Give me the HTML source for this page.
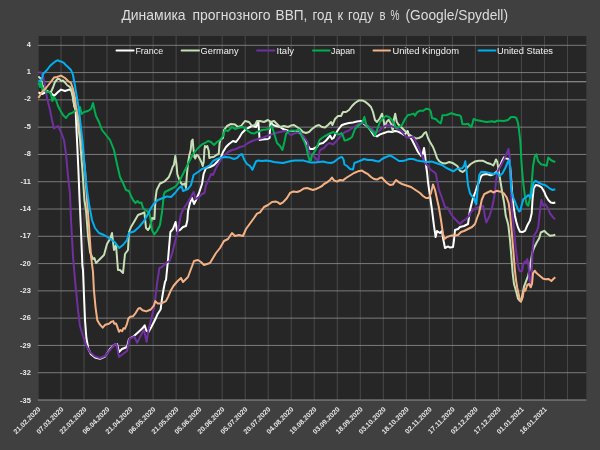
<!DOCTYPE html>
<html><head><meta charset="utf-8"><title>chart</title>
<style>
html,body{margin:0;padding:0;background:#404040;}
body{width:600px;height:450px;overflow:hidden;font-family:"Liberation Sans",sans-serif;}
svg{display:block;font-family:"Liberation Sans",sans-serif;}
.s{fill:none;stroke-width:2;stroke-linejoin:round;stroke-linecap:butt;}
</style></head><body>
<svg width="600" height="450" viewBox="0 0 600 450">
<defs><filter id="nf" x="-5%" y="-5%" width="110%" height="110%"><feOffset dx="0" dy="0"/></filter></defs>
<rect x="0" y="0" width="600" height="450" fill="#404040"/>
<rect x="38.7" y="36.0" width="547.6" height="364.0" fill="#262626"/>
<g stroke="#626262" stroke-width="0.6">
<line x1="61.02" y1="36.0" x2="61.02" y2="400.0"/>
<line x1="84.04" y1="36.0" x2="84.04" y2="400.0"/>
<line x1="107.06" y1="36.0" x2="107.06" y2="400.0"/>
<line x1="130.08" y1="36.0" x2="130.08" y2="400.0"/>
<line x1="153.10" y1="36.0" x2="153.10" y2="400.0"/>
<line x1="176.12" y1="36.0" x2="176.12" y2="400.0"/>
<line x1="199.14" y1="36.0" x2="199.14" y2="400.0"/>
<line x1="222.16" y1="36.0" x2="222.16" y2="400.0"/>
<line x1="245.18" y1="36.0" x2="245.18" y2="400.0"/>
<line x1="268.20" y1="36.0" x2="268.20" y2="400.0"/>
<line x1="291.22" y1="36.0" x2="291.22" y2="400.0"/>
<line x1="314.24" y1="36.0" x2="314.24" y2="400.0"/>
<line x1="337.26" y1="36.0" x2="337.26" y2="400.0"/>
<line x1="360.28" y1="36.0" x2="360.28" y2="400.0"/>
<line x1="383.30" y1="36.0" x2="383.30" y2="400.0"/>
<line x1="406.32" y1="36.0" x2="406.32" y2="400.0"/>
<line x1="429.34" y1="36.0" x2="429.34" y2="400.0"/>
<line x1="452.36" y1="36.0" x2="452.36" y2="400.0"/>
<line x1="475.38" y1="36.0" x2="475.38" y2="400.0"/>
<line x1="498.40" y1="36.0" x2="498.40" y2="400.0"/>
<line x1="521.42" y1="36.0" x2="521.42" y2="400.0"/>
<line x1="544.44" y1="36.0" x2="544.44" y2="400.0"/>
<line x1="567.46" y1="36.0" x2="567.46" y2="400.0"/>
</g>
<g stroke="#8a8a8a" stroke-width="0.85">
<line x1="37.9" y1="45.30" x2="586.3" y2="45.30"/>
<line x1="37.9" y1="72.58" x2="586.3" y2="72.58"/>
<line x1="37.9" y1="99.87" x2="586.3" y2="99.87"/>
<line x1="37.9" y1="127.15" x2="586.3" y2="127.15"/>
<line x1="37.9" y1="154.44" x2="586.3" y2="154.44"/>
<line x1="37.9" y1="181.72" x2="586.3" y2="181.72"/>
<line x1="37.9" y1="209.01" x2="586.3" y2="209.01"/>
<line x1="37.9" y1="236.29" x2="586.3" y2="236.29"/>
<line x1="37.9" y1="263.58" x2="586.3" y2="263.58"/>
<line x1="37.9" y1="290.86" x2="586.3" y2="290.86"/>
<line x1="37.9" y1="318.15" x2="586.3" y2="318.15"/>
<line x1="37.9" y1="345.43" x2="586.3" y2="345.43"/>
<line x1="37.9" y1="372.72" x2="586.3" y2="372.72"/>
<line x1="37.9" y1="400.00" x2="586.3" y2="400.00"/>
<line x1="37.9" y1="400.0" x2="586.3" y2="400.0" stroke="#8a8a8a" stroke-width="0.5"/>
<line x1="38.7" y1="81.68" x2="586.3" y2="81.68" stroke="#a2a2a2" stroke-width="1.1"/>
</g>
<g filter="url(#nf)">
<g fill="#ececec" font-size="7.4" font-weight="bold" text-anchor="end">
<text x="30.8" y="46.6">4</text>
<text x="30.8" y="74.0">1</text>
<text x="30.8" y="101.4">-2</text>
<text x="30.8" y="128.8">-5</text>
<text x="30.8" y="156.2">-8</text>
<text x="30.8" y="183.5">-11</text>
<text x="30.8" y="210.9">-14</text>
<text x="30.8" y="238.3">-17</text>
<text x="30.8" y="265.7">-20</text>
<text x="30.8" y="293.0">-23</text>
<text x="30.8" y="320.4">-26</text>
<text x="30.8" y="347.8">-29</text>
<text x="30.8" y="375.2">-32</text>
<text x="30.8" y="402.6">-35</text>
</g>
<g fill="#e6e6e6" font-size="7" font-weight="bold" text-anchor="end">
<text transform="translate(37.4,406.2) rotate(-45)" x="0" y="5">21.02.2020</text>
<text transform="translate(60.4,406.2) rotate(-45)" x="0" y="5">07.03.2020</text>
<text transform="translate(83.4,406.2) rotate(-45)" x="0" y="5">22.03.2020</text>
<text transform="translate(106.5,406.2) rotate(-45)" x="0" y="5">06.04.2020</text>
<text transform="translate(129.5,406.2) rotate(-45)" x="0" y="5">21.04.2020</text>
<text transform="translate(152.5,406.2) rotate(-45)" x="0" y="5">06.05.2020</text>
<text transform="translate(175.5,406.2) rotate(-45)" x="0" y="5">21.05.2020</text>
<text transform="translate(198.5,406.2) rotate(-45)" x="0" y="5">05.06.2020</text>
<text transform="translate(221.6,406.2) rotate(-45)" x="0" y="5">20.06.2020</text>
<text transform="translate(244.6,406.2) rotate(-45)" x="0" y="5">05.07.2020</text>
<text transform="translate(267.6,406.2) rotate(-45)" x="0" y="5">20.07.2020</text>
<text transform="translate(290.6,406.2) rotate(-45)" x="0" y="5">04.08.2020</text>
<text transform="translate(313.6,406.2) rotate(-45)" x="0" y="5">19.08.2020</text>
<text transform="translate(336.7,406.2) rotate(-45)" x="0" y="5">03.09.2020</text>
<text transform="translate(359.7,406.2) rotate(-45)" x="0" y="5">18.09.2020</text>
<text transform="translate(382.7,406.2) rotate(-45)" x="0" y="5">03.10.2020</text>
<text transform="translate(405.7,406.2) rotate(-45)" x="0" y="5">18.10.2020</text>
<text transform="translate(428.7,406.2) rotate(-45)" x="0" y="5">02.11.2020</text>
<text transform="translate(451.8,406.2) rotate(-45)" x="0" y="5">17.11.2020</text>
<text transform="translate(474.8,406.2) rotate(-45)" x="0" y="5">02.12.2020</text>
<text transform="translate(497.8,406.2) rotate(-45)" x="0" y="5">17.12.2020</text>
<text transform="translate(520.8,406.2) rotate(-45)" x="0" y="5">01.01.2021</text>
<text transform="translate(543.8,406.2) rotate(-45)" x="0" y="5">16.01.2021</text>
</g>
</g>
<polyline class="s" stroke="#ffffff" points="38.4,92.4 42.0,94.0 46.0,92.0 50.0,92.0 54.0,96.0 58.0,92.0 61.0,89.6 65.0,91.0 69.0,89.6 71.0,90.0 73.0,96.0 74.4,106.0 75.6,110.0 77.0,140.0 78.4,170.0 79.6,200.0 81.0,230.0 82.4,266.0 83.0,270.0 84.0,296.0 85.0,320.0 86.4,338.0 88.4,349.0 91.0,354.3 95.0,357.6 100.0,358.8 105.0,356.5 110.0,349.0 114.0,345.0 117.0,344.0 119.0,352.0 122.0,349.0 127.0,347.0 129.0,339.0 134.0,336.0 139.0,331.5 142.5,328.3 144.7,325.3 146.3,330.6 148.5,332.0 151.5,326.8 155.3,319.3 157.6,314.0 160.6,309.5 162.1,298.0 163.6,289.0 165.1,281.5 166.0,280.0 168.0,260.0 169.0,248.0 170.4,232.0 173.0,229.0 175.6,222.0 177.0,231.0 180.0,230.0 183.0,227.0 186.0,226.0 187.4,220.0 188.0,211.0 190.0,203.0 192.0,198.0 194.0,204.0 196.0,200.0 199.0,193.0 202.0,184.0 203.6,174.0 206.0,168.0 210.0,167.0 214.0,165.0 218.0,161.0 221.0,157.0 223.0,152.0 226.0,147.0 229.0,144.0 233.0,141.0 236.0,142.0 239.0,138.0 242.0,133.0 245.0,130.0 248.0,128.0 252.0,126.0 256.0,127.0 258.4,122.0 259.6,140.0 262.0,139.6 268.0,139.0 269.6,138.0 270.4,122.0 273.0,125.0 276.0,126.0 280.0,127.0 283.0,129.0 286.0,130.0 289.0,131.0 292.0,131.0 295.0,131.0 298.0,131.6 301.0,134.0 304.0,138.0 307.0,144.0 310.0,149.0 313.0,149.0 317.0,147.0 319.0,144.0 323.0,143.0 326.0,140.5 328.5,137.5 330.0,135.5 332.0,139.0 333.5,138.0 335.5,134.0 338.0,130.0 341.0,126.0 342.0,125.0 345.0,124.0 349.0,123.0 353.0,122.4 357.0,121.6 361.0,121.0 364.0,124.0 368.0,127.0 371.0,131.0 374.0,135.6 377.0,136.4 380.0,134.4 384.0,133.0 388.0,131.6 392.0,132.0 395.0,131.0 398.0,131.6 401.0,133.0 404.0,135.0 406.0,133.0 407.6,131.0 409.0,136.0 412.0,140.0 415.0,146.0 418.0,152.0 421.0,156.0 422.4,155.0 424.0,148.0 425.2,156.0 426.0,165.0 427.0,172.0 428.0,182.0 430.0,196.0 432.0,210.0 434.0,226.0 435.6,237.0 437.0,231.0 440.0,233.0 442.0,231.0 443.0,238.0 445.0,248.0 448.0,246.4 450.0,247.6 453.0,247.0 454.0,240.0 455.0,230.0 458.0,229.0 460.0,227.0 464.0,226.0 468.0,224.0 470.0,210.0 472.0,202.0 473.3,197.3 475.3,192.0 477.3,186.0 479.3,181.3 481.3,176.0 482.7,174.7 486.7,174.0 490.7,175.3 493.3,174.4 497.3,171.3 500.0,166.0 502.3,160.5 504.0,157.3 506.0,158.5 508.0,158.7 509.5,160.0 510.8,173.3 512.0,191.7 513.3,205.0 515.0,216.0 516.3,221.7 518.0,227.5 520.0,231.7 522.5,232.0 525.0,230.8 527.5,225.0 530.0,220.5 531.7,213.3 532.5,200.0 533.7,188.3 535.8,185.0 539.2,185.8 541.7,187.5 544.2,191.7 545.8,195.8 548.3,200.0 550.8,202.5 553.3,203.0 555.3,202.5"/>
<polyline class="s" stroke="#c5e0b4" points="38.4,76.4 41.0,79.0 42.4,85.0 46.0,90.5 49.0,92.0 51.0,92.0 53.0,87.5 55.0,82.0 57.5,79.0 59.5,79.0 61.0,81.0 63.0,80.5 65.0,82.5 67.0,85.0 70.0,87.0 71.5,90.0 72.6,96.0 74.2,106.0 76.4,112.0 80.0,140.0 82.4,170.0 84.4,200.0 86.0,210.0 88.0,236.0 90.0,252.0 93.0,259.0 94.4,258.0 96.0,263.0 100.0,259.0 104.0,255.0 107.0,244.0 110.0,239.0 112.0,233.0 114.0,250.0 116.0,245.0 118.0,270.0 120.0,270.0 123.0,273.0 125.0,254.0 128.0,250.0 129.0,232.0 131.0,227.0 134.0,222.0 138.0,215.0 142.0,213.5 144.4,212.3 146.0,228.0 148.0,230.0 150.0,227.0 152.0,218.0 154.4,219.0 155.6,198.0 156.7,190.0 160.0,183.5 162.0,182.7 164.7,181.3 167.3,178.7 168.7,177.3 170.7,172.7 172.7,166.7 174.0,164.7 175.3,156.0 176.4,163.3 177.3,174.0 178.7,178.0 180.7,182.7 182.7,184.7 185.0,183.5 186.0,188.0 186.7,176.7 188.0,163.3 189.3,155.3 190.7,150.0 191.6,141.0 192.7,139.5 193.3,147.3 194.3,156.7 195.3,158.5 196.7,154.7 198.3,156.0 200.0,159.3 201.3,162.0 202.7,166.0 203.7,162.0 204.4,150.0 205.0,146.0 206.0,147.3 207.3,146.0 208.7,150.7 209.3,158.0 211.3,157.3 214.0,156.7 216.7,154.7 218.7,154.0 219.6,143.3 220.7,139.5 223.0,138.0 224.0,130.0 227.0,126.0 231.0,124.0 235.0,124.4 238.0,127.0 241.0,126.0 245.0,121.0 249.0,122.0 252.0,126.0 255.0,125.0 257.0,121.0 260.0,121.0 264.0,122.0 268.0,120.0 271.0,122.0 274.0,121.0 277.0,124.0 280.0,127.0 284.0,126.0 288.0,127.0 291.0,125.6 294.0,125.0 297.0,127.0 300.0,129.0 303.0,132.0 306.0,133.0 309.0,132.0 312.0,129.0 316.0,126.0 319.0,125.0 322.0,127.0 325.0,127.6 328.0,125.0 331.0,122.0 332.4,125.0 335.0,119.0 338.0,116.0 341.0,116.0 343.0,112.0 346.0,112.0 349.0,110.0 352.0,106.0 355.0,103.0 359.0,100.4 362.0,100.4 365.0,101.6 368.0,104.0 371.0,107.0 373.0,112.0 375.0,120.0 377.0,122.0 380.0,118.0 382.0,113.7 383.3,119.0 384.9,127.5 386.7,121.7 388.7,119.7 391.0,123.7 392.9,131.0 394.0,119.0 395.2,113.7 396.7,121.7 398.0,124.0 401.0,127.0 404.0,130.0 407.0,133.0 410.0,135.0 413.0,137.0 416.0,138.4 419.0,138.0 422.0,136.4 424.4,133.0 426.0,132.0 428.0,138.0 430.0,142.0 433.0,147.0 435.0,152.0 437.0,158.0 439.0,161.0 442.0,163.0 445.0,163.6 449.3,162.0 453.3,163.3 457.3,166.0 460.0,170.7 462.7,172.0 465.3,170.0 468.0,166.7 470.7,164.0 474.7,161.6 478.7,160.7 482.7,160.7 486.7,162.7 490.7,164.0 493.3,165.5 494.7,162.7 496.0,159.5 497.3,162.0 498.7,170.7 500.0,178.7 501.5,188.0 504.2,203.3 505.8,216.0 507.0,220.0 508.3,225.0 510.0,240.0 511.5,258.3 512.7,273.3 514.0,284.0 516.0,290.7 518.0,298.7 519.6,300.7 521.0,301.5 522.7,293.3 524.0,286.7 526.0,281.3 528.0,276.0 529.5,270.0 531.0,260.0 532.5,252.0 534.2,247.5 536.7,242.5 539.2,238.3 540.8,232.5 544.2,230.8 546.7,233.3 550.0,235.8 553.3,235.3 555.3,234.7"/>
<polyline class="s" stroke="#7030a0" points="38.4,72.4 41.0,72.6 43.0,76.0 45.0,86.0 47.0,98.0 50.0,110.0 52.0,120.0 54.0,128.4 58.0,126.0 61.0,132.0 64.0,140.0 66.0,154.0 68.0,176.0 70.0,194.0 71.0,220.0 73.0,256.0 75.0,280.0 76.0,290.0 78.0,310.0 80.0,326.0 83.0,336.0 86.0,345.0 90.0,352.0 95.0,356.4 100.0,358.0 105.0,356.0 110.0,350.0 114.0,345.0 116.4,344.0 119.0,357.0 123.0,354.0 127.0,351.0 129.4,339.0 134.2,336.6 137.2,342.7 140.2,336.6 144.0,329.8 146.6,341.9 148.5,329.8 151.5,317.8 153.8,308.7 155.3,298.1 157.0,284.0 159.4,268.0 162.0,267.0 166.0,263.0 169.6,261.0 172.0,254.0 175.0,242.0 178.0,230.0 181.0,214.0 184.0,208.0 188.0,202.0 191.0,197.0 193.6,192.0 195.6,199.0 199.0,197.0 202.0,194.0 204.4,193.0 206.0,185.0 209.0,179.0 211.0,174.0 213.0,175.0 216.0,168.0 220.0,161.0 224.0,156.0 228.0,152.0 232.0,150.0 236.0,149.0 240.0,147.0 244.0,146.0 248.0,143.0 252.0,141.0 256.0,139.6 260.0,138.5 262.0,138.0 266.0,136.4 270.0,135.0 274.0,133.6 278.0,132.4 282.0,131.6 286.0,131.0 289.0,133.6 291.0,135.0 294.0,133.5 298.0,132.5 300.5,132.5 303.0,135.5 305.5,139.0 307.5,142.0 308.5,150.0 310.0,154.0 312.0,155.0 315.0,157.5 317.5,160.5 318.5,160.0 319.5,151.0 321.0,149.5 324.0,148.0 327.0,144.5 329.5,143.0 333.0,144.5 336.0,141.5 339.0,138.0 342.0,134.5 345.0,132.0 348.0,131.0 351.0,129.0 354.0,127.0 357.0,125.0 360.0,123.0 364.0,123.0 367.0,125.6 370.0,127.0 373.0,130.0 376.0,133.0 379.0,131.0 382.0,128.0 385.0,126.0 388.0,125.0 391.0,126.0 394.0,127.0 397.0,129.0 400.0,130.0 403.0,133.0 406.0,137.0 409.0,137.6 413.0,136.4 416.0,142.0 419.0,148.0 422.0,156.0 425.0,163.0 428.0,166.0 431.0,170.0 434.0,172.0 436.0,174.0 437.0,180.0 439.0,190.0 442.0,198.0 445.0,207.0 448.0,208.0 451.0,214.0 454.0,218.0 457.0,221.0 460.0,224.0 463.0,221.0 466.0,219.0 469.0,216.0 471.0,212.0 474.0,209.0 477.0,207.6 480.0,207.0 481.7,206.7 483.3,205.8 485.0,216.7 486.3,222.5 489.2,216.7 491.7,209.2 493.7,200.0 495.0,191.7 496.2,180.0 497.5,171.7 500.8,165.8 504.2,159.2 506.7,153.3 508.5,149.0 509.7,156.7 510.5,175.0 511.3,200.0 512.5,215.0 514.2,231.7 515.8,248.3 517.5,261.7 518.7,268.7 520.0,271.3 522.0,271.3 523.3,264.0 525.0,261.3 526.0,263.3 527.3,259.0 528.4,264.0 529.3,277.3 530.3,286.0 531.0,287.0 531.7,276.0 532.5,250.0 534.2,235.0 536.7,231.7 538.3,226.7 539.7,213.3 541.3,200.0 543.3,205.8 545.3,204.2 547.5,207.5 550.0,213.3 552.5,216.7 555.0,219.2"/>
<polyline class="s" stroke="#00b050" points="38.4,82.4 40.0,87.0 41.0,82.4 42.4,90.0 44.0,88.0 46.0,92.0 49.0,92.0 51.0,94.0 52.4,101.0 54.0,97.0 56.0,100.0 58.0,106.0 60.0,110.0 63.0,115.0 66.0,118.0 69.0,114.0 72.0,113.0 75.0,111.0 78.0,109.0 80.0,107.0 81.6,114.0 84.0,112.0 88.0,111.0 91.0,109.0 93.0,103.0 95.0,112.0 96.0,116.0 99.0,122.0 102.0,130.0 106.0,135.0 110.0,140.0 114.0,150.0 117.0,164.0 120.0,177.0 123.0,183.0 126.0,190.0 129.0,191.0 131.0,196.0 133.0,200.0 135.5,203.0 137.5,201.0 139.5,203.0 141.5,202.5 143.0,208.0 144.5,209.5 147.0,211.0 149.5,213.5 150.3,218.0 152.0,230.0 154.4,234.4 157.0,231.0 160.0,225.0 162.0,212.0 164.0,194.0 165.0,192.0 167.0,191.0 170.0,189.5 173.0,188.0 176.0,186.0 179.0,182.0 182.0,176.0 185.0,170.0 188.0,164.0 191.0,158.0 194.0,153.0 198.0,148.0 202.0,144.4 205.0,143.0 208.0,141.0 211.0,142.0 214.0,145.0 217.0,142.0 220.0,140.0 223.0,136.0 225.0,130.0 228.0,131.0 232.0,127.0 235.0,129.0 238.0,128.0 242.0,127.0 245.0,128.0 248.0,131.0 251.0,133.0 254.0,133.6 257.0,132.0 260.0,131.0 262.0,130.0 266.0,129.6 269.0,129.0 271.6,125.6 274.0,133.0 277.0,143.0 280.0,146.0 282.4,150.0 284.4,142.0 286.0,134.0 289.0,131.0 293.0,130.4 295.0,131.0 299.0,129.5 300.0,131.0 302.0,137.0 304.5,142.0 306.5,148.0 308.0,155.0 309.5,160.0 311.0,160.0 311.8,155.0 314.0,152.5 316.0,149.0 318.0,144.0 319.5,140.0 322.0,138.0 325.0,136.0 328.0,134.5 331.0,133.0 333.5,132.0 336.0,133.5 339.0,134.5 341.5,133.0 343.0,136.0 344.5,140.5 347.0,140.0 350.0,138.5 352.0,137.0 355.0,129.0 359.0,125.0 362.0,123.0 364.4,117.0 366.4,125.0 370.0,129.0 373.0,132.0 375.0,135.6 377.0,130.0 380.0,122.0 383.0,118.0 386.0,116.0 389.0,117.0 392.0,120.0 394.0,123.0 396.0,128.0 399.0,127.0 402.0,125.0 405.0,119.0 408.0,115.0 411.0,114.4 413.6,113.6 415.0,115.6 417.0,112.4 420.0,110.7 423.3,110.7 426.0,108.7 429.3,109.3 430.7,111.3 432.0,118.0 436.0,119.3 438.7,122.0 440.7,123.3 441.6,120.0 442.4,115.3 446.7,115.0 451.3,113.3 456.0,114.7 460.0,115.6 461.0,116.7 462.4,124.0 465.3,124.3 468.0,123.7 470.0,126.0 471.3,127.3 472.7,122.7 473.6,118.9 476.0,120.0 480.0,120.7 482.7,121.3 486.7,122.0 492.0,121.3 494.7,122.0 497.3,120.7 500.0,120.7 504.0,121.0 508.0,120.0 511.0,117.0 514.0,117.0 516.4,118.0 518.0,123.0 519.0,130.0 520.4,142.0 521.2,158.0 522.2,172.0 523.3,183.3 525.0,196.7 526.7,204.2 528.3,205.8 530.0,198.3 531.7,183.3 533.0,166.7 534.7,156.7 536.3,154.2 538.0,160.8 540.8,164.2 544.2,165.0 546.7,165.8 548.3,157.5 550.8,160.0 553.3,161.3 555.3,162.0"/>
<polyline class="s" stroke="#f4b183" points="38.4,98.0 42.0,92.0 46.0,88.0 50.0,83.0 54.0,77.6 57.0,77.0 61.0,75.6 65.0,78.0 68.0,81.0 71.0,83.0 73.0,89.0 75.0,98.0 76.4,110.0 79.0,120.0 81.6,140.0 85.0,170.0 87.0,200.0 89.0,226.0 91.0,256.0 93.0,272.0 93.9,290.0 95.6,307.8 97.3,320.2 100.0,324.7 102.7,327.7 105.3,324.7 108.9,323.8 111.6,321.6 113.3,321.1 114.2,323.8 116.0,323.4 117.8,328.2 119.0,331.8 120.4,330.0 122.2,331.2 123.5,328.2 124.9,328.8 126.7,324.7 128.4,318.4 130.2,316.7 132.9,316.3 135.6,313.1 138.2,308.7 140.0,308.0 142.5,310.2 146.3,311.4 150.8,309.5 153.8,305.7 155.3,301.1 157.6,303.4 161.4,303.4 165.9,301.1 168.2,296.6 170.4,291.3 173.4,286.0 177.2,281.5 181.0,278.0 183.0,282.0 188.0,277.0 191.0,269.0 194.0,261.0 198.0,260.0 201.0,262.0 204.0,265.0 210.0,263.0 213.0,258.0 216.0,253.0 220.0,248.0 224.0,241.0 228.0,239.0 232.0,233.0 235.0,236.0 239.0,235.0 243.0,236.0 246.0,229.0 250.0,223.5 254.0,218.0 257.0,213.6 260.0,212.4 264.0,207.0 268.0,205.0 272.0,202.0 276.0,201.6 278.0,202.4 280.0,204.0 283.0,202.4 287.0,198.0 290.0,193.0 293.0,191.6 297.0,192.0 300.0,191.0 304.0,188.4 307.0,188.0 310.0,189.0 313.0,190.0 316.0,189.0 319.0,187.6 322.0,186.0 324.0,184.0 327.0,182.4 330.0,180.0 332.0,177.6 334.0,180.4 337.0,181.6 340.0,180.0 343.0,180.4 346.0,178.0 350.0,175.5 354.0,173.0 358.0,171.3 362.0,170.6 364.0,172.0 368.0,174.2 371.0,177.0 374.0,179.0 377.0,179.6 380.0,177.8 382.0,177.6 384.0,180.0 387.0,183.0 390.0,185.0 393.0,184.4 396.0,180.0 399.0,182.4 402.0,184.0 405.0,185.0 408.0,186.0 411.0,187.0 414.0,189.0 417.0,191.0 420.0,193.0 423.0,196.0 426.0,198.0 429.0,198.0 431.0,193.0 433.0,184.4 435.0,190.0 437.0,199.0 439.0,208.0 441.0,220.0 443.0,234.0 444.4,239.0 447.0,237.0 451.0,235.6 455.0,235.6 458.0,235.0 461.0,232.0 464.0,231.0 468.0,229.0 472.0,227.0 475.0,224.0 477.0,218.0 479.0,213.0 480.0,208.3 481.7,200.0 484.2,194.2 487.5,192.5 490.8,190.8 493.3,192.5 496.7,190.8 500.8,191.7 504.2,193.7 506.7,197.5 508.7,203.3 510.0,213.0 511.7,231.7 513.3,250.0 514.7,268.0 516.0,280.0 517.3,288.0 519.3,297.3 520.9,301.6 522.7,297.3 524.0,288.7 525.3,290.7 527.3,284.7 529.3,284.0 530.7,287.3 532.0,284.0 533.0,273.3 534.7,270.7 536.7,273.3 540.0,276.0 543.3,278.7 546.0,279.3 548.7,279.0 551.3,281.0 553.3,279.0 555.3,277.3"/>
<polyline class="s" stroke="#00b0f0" points="38.4,81.0 40.5,80.6 42.0,78.5 43.0,74.2 45.0,72.0 47.0,70.0 50.0,66.0 53.0,63.2 56.0,61.0 57.6,60.3 59.0,60.8 60.5,61.6 62.0,61.8 64.0,63.0 66.0,65.3 68.0,67.0 71.0,70.0 73.0,75.0 75.0,86.0 77.0,98.0 79.0,110.0 82.4,140.0 85.0,170.0 87.0,190.0 89.0,204.0 92.0,220.0 95.0,228.0 99.0,233.0 104.0,235.0 109.0,238.0 113.0,241.0 115.0,242.4 119.0,248.0 123.0,245.0 127.0,240.0 129.0,233.0 134.0,231.5 139.0,227.0 144.0,221.0 148.0,214.0 151.0,208.0 154.0,203.6 158.0,200.0 163.0,198.0 167.0,196.4 171.0,197.0 175.0,193.0 179.0,188.0 181.6,186.0 183.0,191.0 188.0,189.0 191.0,185.0 193.6,175.0 198.0,172.0 202.0,169.0 206.0,167.5 210.0,165.0 213.0,161.0 217.0,159.0 221.0,157.6 226.0,157.0 230.0,157.6 234.0,159.0 237.0,158.0 240.0,155.0 242.0,154.0 244.4,160.0 247.0,164.0 250.0,166.0 252.4,169.8 254.4,165.0 256.0,161.5 258.0,160.4 262.0,161.0 266.0,160.4 270.0,161.0 274.0,162.0 278.0,162.4 283.0,163.0 287.0,162.0 291.0,161.0 295.0,160.4 299.0,160.4 303.0,160.4 307.0,161.6 311.0,162.4 315.0,162.4 319.0,162.0 323.0,161.6 327.0,162.4 331.0,163.0 334.0,162.0 337.0,159.5 340.0,157.5 342.0,157.0 343.5,159.5 344.5,164.5 347.0,166.0 350.0,169.0 353.0,169.6 354.4,163.0 358.0,161.6 362.0,160.0 364.0,159.0 368.0,160.0 372.0,160.0 376.0,161.0 379.0,161.6 382.0,159.0 386.0,157.0 390.0,155.6 393.0,157.0 396.0,159.0 399.0,161.0 402.0,161.0 405.0,160.4 409.0,159.0 413.0,159.0 417.0,160.4 420.0,161.0 424.0,161.6 428.0,162.0 432.0,161.6 436.0,163.0 439.0,164.0 442.0,165.0 445.3,167.3 450.7,170.0 453.3,171.3 457.3,168.7 462.0,168.3 464.0,166.0 465.3,161.3 466.7,172.0 468.0,185.3 470.0,193.3 472.5,196.8 474.2,198.0 475.5,203.0 476.3,204.2 477.1,195.0 478.2,184.0 479.3,174.7 481.3,171.7 485.3,172.0 489.3,173.0 493.3,174.0 497.3,172.7 499.5,176.0 502.5,173.3 505.5,167.5 508.2,161.0 509.4,160.0 510.3,173.3 511.2,188.3 512.5,195.8 515.0,201.7 517.5,208.3 519.2,211.5 520.3,210.8 521.7,205.0 523.3,199.2 525.8,197.5 528.3,195.0 530.8,197.5 532.0,190.0 533.7,182.5 535.8,180.8 538.3,182.5 541.7,184.2 545.0,185.0 547.5,186.7 550.0,188.7 552.5,190.0 555.3,189.2"/>
<g filter="url(#nf)">
<line x1="116.5" y1="50.4" x2="133.6" y2="50.4" stroke="#ffffff" stroke-width="2" stroke-linecap="round"/>
<text x="135.4" y="53.7" font-size="9.6" fill="#f2f2f2" textLength="27.8" lengthAdjust="spacingAndGlyphs">France</text>
<line x1="181.6" y1="50.4" x2="199" y2="50.4" stroke="#c5e0b4" stroke-width="2" stroke-linecap="round"/>
<text x="200.6" y="53.7" font-size="9.6" fill="#f2f2f2" textLength="38.0" lengthAdjust="spacingAndGlyphs">Germany</text>
<line x1="257.1" y1="50.4" x2="274.5" y2="50.4" stroke="#7030a0" stroke-width="2" stroke-linecap="round"/>
<text x="276.6" y="53.7" font-size="9.6" fill="#f2f2f2" textLength="17.4" lengthAdjust="spacingAndGlyphs">Italy</text>
<line x1="313" y1="50.4" x2="329.6" y2="50.4" stroke="#00b050" stroke-width="2" stroke-linecap="round"/>
<text x="331" y="53.7" font-size="9.6" fill="#f2f2f2" textLength="24.0" lengthAdjust="spacingAndGlyphs">Japan</text>
<line x1="373.5" y1="50.4" x2="390" y2="50.4" stroke="#f4b183" stroke-width="2" stroke-linecap="round"/>
<text x="392.4" y="53.7" font-size="9.6" fill="#f2f2f2" textLength="66.6" lengthAdjust="spacingAndGlyphs">United Kingdom</text>
<line x1="478.6" y1="50.4" x2="495.4" y2="50.4" stroke="#00b0f0" stroke-width="2" stroke-linecap="round"/>
<text x="497" y="53.7" font-size="9.6" fill="#f2f2f2" textLength="56.0" lengthAdjust="spacingAndGlyphs">United States</text>
<g font-size="14.6" fill="#dcdcdc">
<text x="121.4" y="20.3" textLength="64.2" lengthAdjust="spacingAndGlyphs">Динамика</text>
<text x="192.5" y="20.3" textLength="78.0" lengthAdjust="spacingAndGlyphs">прогнозного</text>
<text x="275.6" y="20.3" textLength="31.8" lengthAdjust="spacingAndGlyphs">ВВП,</text>
<text x="312.5" y="20.3" textLength="19.5" lengthAdjust="spacingAndGlyphs">год</text>
<text x="337.4" y="20.3" textLength="5.6" lengthAdjust="spacingAndGlyphs">к</text>
<text x="348" y="20.3" textLength="25.4" lengthAdjust="spacingAndGlyphs">году</text>
<text x="379.4" y="20.3" textLength="6.0" lengthAdjust="spacingAndGlyphs">в</text>
<text x="390.5" y="20.3" textLength="9.0" lengthAdjust="spacingAndGlyphs">%</text>
<text x="405.5" y="20.3" textLength="102.5" lengthAdjust="spacingAndGlyphs">(Google/Spydell)</text>
</g>
</g>
</svg>
</body></html>
